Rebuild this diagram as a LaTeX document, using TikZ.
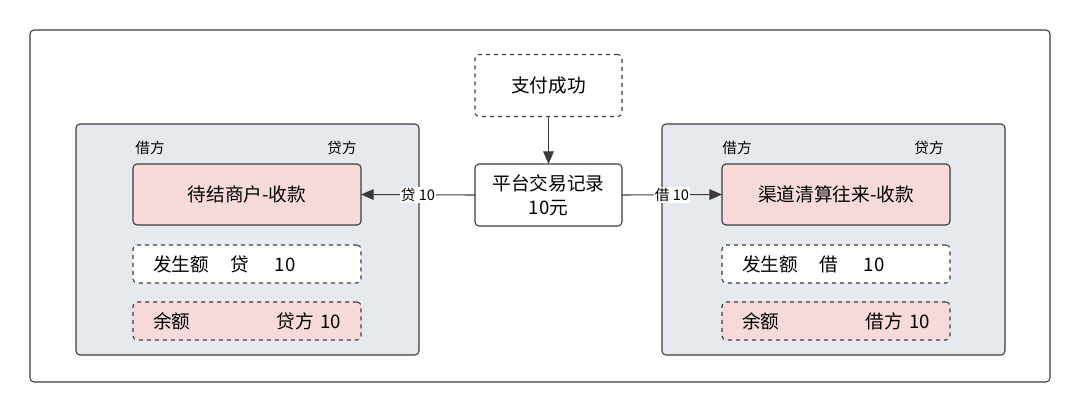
\documentclass[tikz,border=0pt]{standalone}
\usepackage{fontspec}
\setmainfont{Noto Sans CJK SC}
\usetikzlibrary{arrows.meta}
\definecolor{panelgray}{HTML}{E6E9ED}
\definecolor{acctpink}{HTML}{F8DADA}
\definecolor{edgegray}{HTML}{3C3C3C}

\begin{document}
\begin{tikzpicture}[x=0.75pt,y=-0.75pt,
	box/.style={draw=edgegray,line width=0.8pt,rounded corners=3pt,inner sep=0pt,outer sep=0pt,font=\fontsize{14}{18}\selectfont},
	panel/.style={box,fill=panelgray,minimum width=257.25pt,minimum height=173.25pt},
	acct/.style={box,fill=acctpink,minimum width=171pt,minimum height=45.75pt},
	entry/.style={box,dashed,minimum width=171pt,minimum height=28.5pt,text width=141pt,align=left},
	event/.style={box,minimum width=110.25pt,minimum height=46.5pt,align=center},
	side/.style={font=\fontsize{11}{13}\selectfont},
	arr/.style={draw=edgegray,line width=0.8pt,-{Triangle[length=9.5pt,width=8pt]}},
	lbl/.style={fill=white,inner sep=1pt,font=\fontsize{11}{13}\selectfont}]
	\useasboundingbox (0,0) rectangle (1080,412);
	\draw[edgegray,line width=0.8pt,rounded corners=3pt] (30,30) rectangle (1050,382);
	\node[panel] (lpanel) at (247.5,239.5) {};
	\node[panel] (rpanel) at (833.5,239.5) {};
	\node[side] (ldebit) at (150,148) {借方};
	\node[side] (lcredit) at (342,148) {贷方};
	\node[side] (rdebit) at (737,148) {借方};
	\node[side] (rcredit) at (929,148) {贷方};
	\node[acct] (pend) at (247,194.5) {待结商户-收款};
	\node[acct] (chan) at (836,194.5) {渠道清算往来-收款};
	\node[entry,fill=white] (lamt) at (247,264) {发生额\hspace{15.75pt}贷\hspace{19.5pt}10};
	\node[entry,fill=acctpink] (lbal) at (247,321) {余额\hfill 贷方 10};
	\node[entry,fill=white] (ramt) at (836,264) {发生额\hspace{15.75pt}借\hspace{19.5pt}10};
	\node[entry,fill=acctpink] (rbal) at (836,321) {余额\hfill 借方 10};
	\node[event,dashed] (paid) at (548.5,85.5) {支付成功};
	\node[event] (rec) at (548.5,195) {平台交易记录\\10元};
	\draw[arr] (paid) -- (rec);
	\draw[arr] (rec.west) -- node[lbl] {贷 10} (pend.east);
	\draw[arr] (rec.east) -- node[lbl] {借 10} (chan.west);
\end{tikzpicture}
\end{document}
